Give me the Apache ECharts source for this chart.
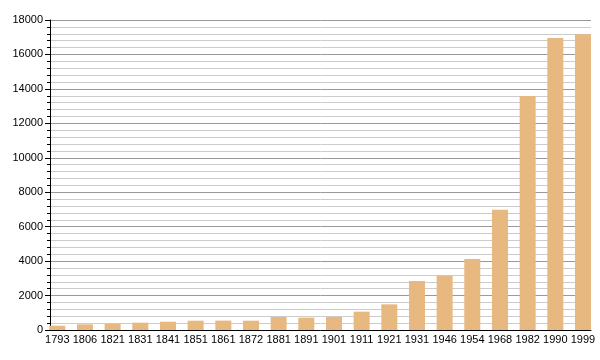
<!DOCTYPE html>
<html>
<head>
<meta charset="utf-8">
<script src="https://cdn.jsdelivr.net/npm/echarts@6/dist/echarts.min.js"></script>
<style>html,body{margin:0;padding:0;background:#fff;}#c{width:600px;height:360px;}</style>
</head>
<body>
<div id="c"></div>
<script>
var categories = ['1793','1806','1821','1831','1841','1851','1861','1872','1881','1891','1901','1911','1921','1931','1946','1954','1968','1982','1990','1999'];
var population = [250, 330, 365, 425, 480, 540, 545, 540, 755, 715, 755, 1065, 1490, 2845, 3155, 4122, 6980, 13590, 16950, 17170];
var yTicks = [0, 2000, 4000, 6000, 8000, 10000, 12000, 14000, 16000, 18000];

var chart = echarts.init(document.getElementById('c'), null, {renderer: 'canvas'});
var font = 'Liberation Sans, Arial, Helvetica, sans-serif';
var catIndex = categories.map(function (c, i) { return i; });
chart.setOption({
  animation: false,
  backgroundColor: '#ffffff',
  grid: {left: 50, right: 9, top: 20, bottom: 30, containLabel: false},
  xAxis: {
    type: 'value',
    min: -0.264,
    max: 19.29,
    axisLine: {show: true, onZero: false, lineStyle: {color: '#000', width: 1}},
    axisTick: {show: false},
    splitLine: {show: false},
    axisLabel: {
      show: true, margin: 4, color: '#000', fontSize: 11, fontFamily: font,
      customValues: catIndex,
      formatter: function (v) {
        var i = Math.round(v);
        if (i < 0 || i >= categories.length) return '';
        return categories[i];
      }
    }
  },
  yAxis: {
    type: 'value',
    min: yTicks[0],
    max: yTicks[yTicks.length - 1],
    interval: yTicks[1] - yTicks[0],
    axisLine: {show: true, onZero: false, lineStyle: {color: '#000', width: 1}},
    axisTick: {show: true, length: 5, lineStyle: {color: '#000'}},
    minorTick: {show: true, splitNumber: 5, length: 3, lineStyle: {color: '#000'}},
    splitLine: {show: true, lineStyle: {color: '#999', width: 1}},
    minorSplitLine: {show: true, lineStyle: {color: '#ccc', width: 1}},
    axisLabel: {margin: 7, color: '#000', fontSize: 11, fontFamily: font,
      formatter: function (v) { return String(v); }}
  },
  series: [{
    type: 'bar',
    barWidth: 16,
    clip: true,
    itemStyle: {color: '#e7b981'},
    data: population.map(function (v, i) { return [i, v]; })
  }]
});
</script>
</body>
</html>
